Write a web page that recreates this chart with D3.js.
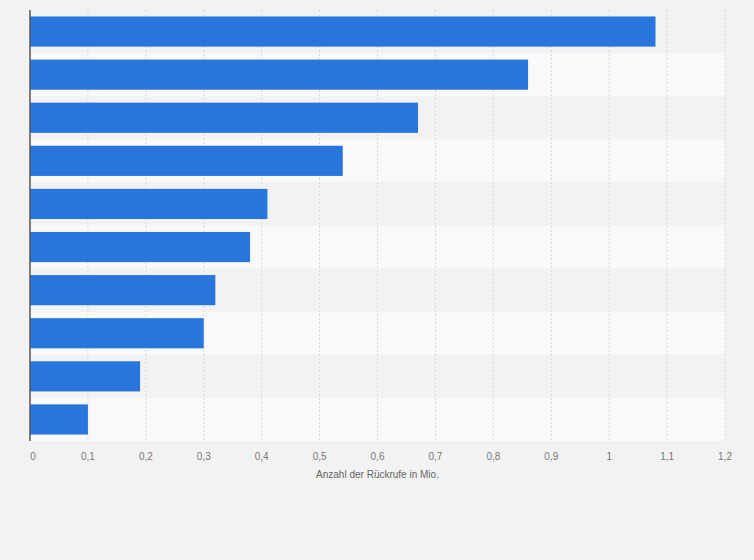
<!DOCTYPE html>
<html><head><meta charset="utf-8">
<script src="https://cdn.jsdelivr.net/npm/d3@7"></script>
<style>body{margin:0;background:#f2f2f2}</style>
</head><body><div id="chart"></div>
<script>
const categories = ["A","B","C","D","E","F","G","H","I","J"];
const values = [1.08, 0.86, 0.67, 0.54, 0.41, 0.38, 0.32, 0.30, 0.19, 0.10];
const ticks = [0,0.1,0.2,0.3,0.4,0.5,0.6,0.7,0.8,0.9,1,1.1,1.2];

const width = 754, height = 560;
const margin = {top: 10, right: 29, bottom: 119, left: 30};

const svg = d3.select("#chart").append("svg")
    .attr("width", width).attr("height", height)
    .style("font-family", "Arial, 'Liberation Sans', sans-serif");

const x = d3.scaleLinear().domain([0, 1.2]).range([margin.left, width - margin.right]);
const y = d3.scaleBand().domain(categories).range([margin.top, height - margin.bottom]).paddingInner(0.3).paddingOuter(0.15);
const band = d3.scaleBand().domain(categories).range([margin.top, height - margin.bottom]);

svg.selectAll(".stripe").data(categories).enter().append("rect")
    .attr("x", margin.left).attr("width", width - margin.right - margin.left)
    .attr("y", d => band(d)).attr("height", band.bandwidth())
    .attr("fill", (d, i) => i % 2 ? "#f9f9f9" : "#f2f2f2");

svg.selectAll(".grid").data(ticks.slice(1)).enter().append("line")
    .attr("x1", d => x(d)).attr("x2", d => x(d))
    .attr("y1", margin.top).attr("y2", height - margin.bottom)
    .attr("stroke", "#d8d8d8").attr("stroke-dasharray", "2,2");

svg.selectAll(".bar").data(values).enter().append("rect")
    .attr("x", x(0)).attr("y", (d, i) => y(categories[i]))
    .attr("width", d => x(d) - x(0)).attr("height", y.bandwidth())
    .attr("fill", "#2876dd");

svg.append("line").attr("x1", x(0)).attr("x2", x(0))
    .attr("y1", margin.top).attr("y2", height - margin.bottom)
    .attr("stroke", "#555").attr("stroke-width", 1.5);

svg.selectAll(".tick").data(ticks).enter().append("text")
    .attr("x", d => x(d) + (d === 0 ? 3 : 0)).attr("y", height - margin.bottom + 19)
    .attr("text-anchor", "middle").attr("font-size", 10).attr("fill", "#777")
    .text(d => String(d).replace(".", ","));

svg.append("text").attr("x", (x(0) + x(1.2)) / 2).attr("y", height - margin.bottom + 37)
    .attr("text-anchor", "middle").attr("font-size", 10).attr("fill", "#666")
    .text("Anzahl der Rückrufe in Mio.");
</script></body></html>
